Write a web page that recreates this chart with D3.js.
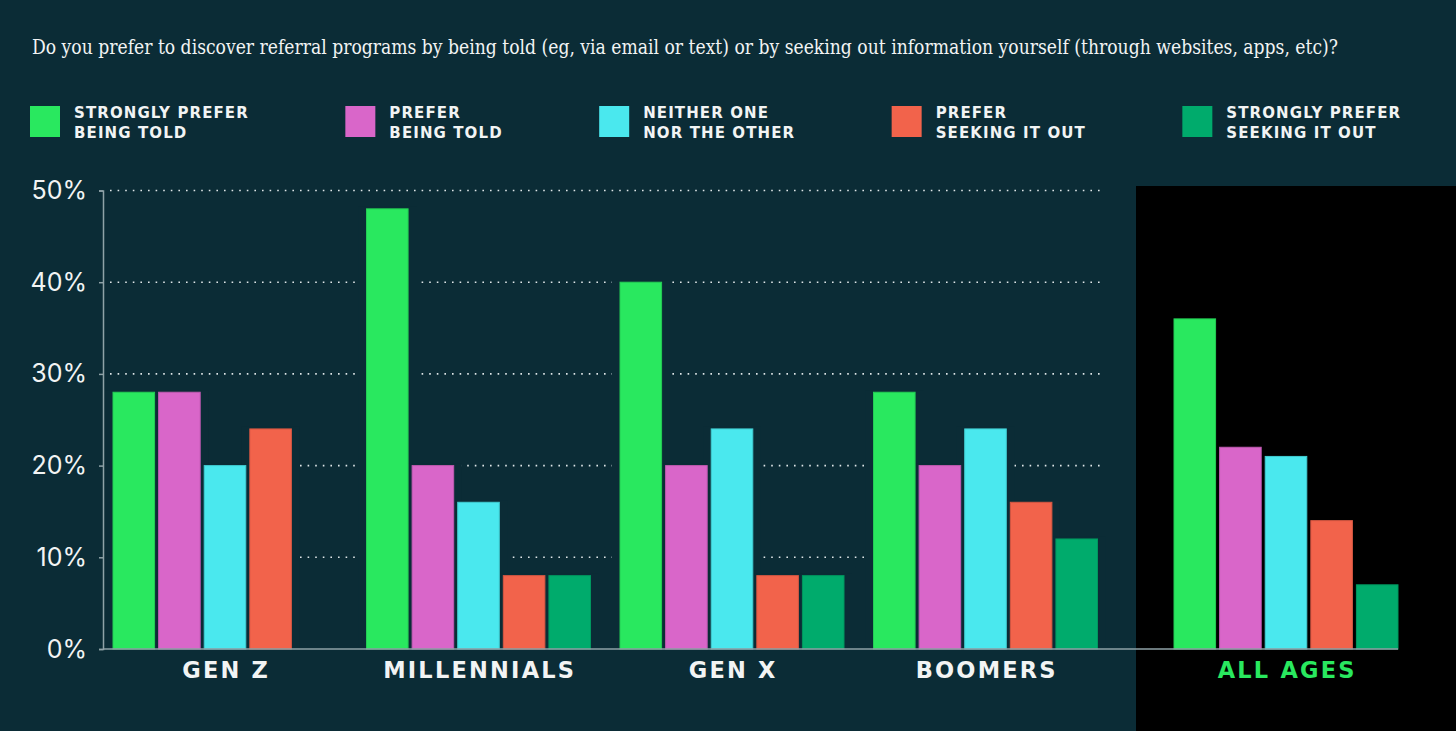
<!DOCTYPE html>
<html>
<head>
<meta charset="utf-8">
<script src="https://cdn.jsdelivr.net/npm/d3@7"></script>
<style>
  html, body { margin: 0; padding: 0; background: #0b2c36; }
  svg { display: block; }
</style>
</head>
<body>
<svg id="chart" width="1456" height="731"></svg>
<script>
// Data
const title = "Do you prefer to discover referral programs by being told (eg, via email or text) or by seeking out information yourself (through websites, apps, etc)?";
const groups = ["GEN Z", "MILLENNIALS", "GEN X", "BOOMERS", "ALL AGES"];
const seriesKeys = ["strongTold", "preferTold", "neither", "preferSeek", "strongSeek"];
const seriesLabels = [
  ["STRONGLY PREFER", "BEING TOLD"],
  ["PREFER", "BEING TOLD"],
  ["NEITHER ONE", "NOR THE OTHER"],
  ["PREFER", "SEEKING IT OUT"],
  ["STRONGLY PREFER", "SEEKING IT OUT"]
];
const seriesColors = ["#29e85f", "#d966c9", "#4ae8ee", "#f2634b", "#00ab6c"];

const strongTold = [28, 48, 40, 28, 36];
const preferTold = [28, 20, 20, 20, 22];
const neither    = [20, 16, 24, 24, 21];
const preferSeek = [24, 8, 8, 16, 14];
const strongSeek = [null, 8, 8, 12, 7];

const yTicks = [0, 10, 20, 30, 40, 50];

const seriesValues = [strongTold, preferTold, neither, preferSeek, strongSeek];

// Layout
const W = 1456, H = 731;
const bg = "#0b2c36";
const baseY = 649, topY = 190.5;
const axisX = 103;
const panelX = 1136, panelY = 186;
const groupStep = 253.5, groupGap = 29.5, panelShift = 47;

const svg = d3.select("#chart");

svg.append("rect").attr("width", W).attr("height", H).attr("fill", bg);
svg.append("rect")
  .attr("x", panelX).attr("y", panelY)
  .attr("width", W - panelX).attr("height", H - panelY)
  .attr("fill", "#000");

// Title
svg.append("text")
  .attr("x", 32).attr("y", 54)
  .attr("textLength", 1306)
  .attr("lengthAdjust", "spacingAndGlyphs")
  .style("font-family", "'DejaVu Serif Condensed', 'DejaVu Serif', serif")
  .style("font-size", "19.5px")
  .attr("fill", "#f2f4f4")
  .text(title);

// Legend
let lx = 30;
seriesLabels.forEach((lines, i) => {
  const item = svg.append("g").attr("transform", `translate(${lx},106)`);
  item.append("rect")
    .attr("width", 30).attr("height", 31)
    .attr("fill", seriesColors[i]);
  const t = item.append("text")
    .attr("x", 44)
    .style("font-family", "'DejaVu Sans', sans-serif")
    .style("font-weight", "bold")
    .style("font-size", "15px")
    .style("letter-spacing", "1.1px")
    .attr("fill", "#f2f4f4");
  lines.forEach((ln, j) => {
    t.append("tspan").attr("x", 44).attr("y", 12.3 + j * 19.4).text(ln);
  });
  const w = d3.max(t.selectAll("tspan").nodes(), n => n.getComputedTextLength());
  lx += 44 + w + 96.5;
});

// Scales
const y = d3.scaleLinear().domain([0, 50]).range([baseY, topY]);

const x0 = d3.scaleBand()
  .domain(groups)
  .range([113, 113 + groupStep * (groups.length - groupGap / groupStep)])
  .paddingInner(groupGap / groupStep)
  .paddingOuter(0);

const groupX = g => x0(g) + (g === "ALL AGES" ? panelShift : 0);

const x1 = d3.scaleBand()
  .domain(seriesKeys)
  .range([0, x0.bandwidth()])
  .paddingInner(0.088);

const bars = [];
groups.forEach((g, gi) => {
  seriesKeys.forEach((k, si) => {
    const v = seriesValues[si][gi];
    if (v != null) bars.push({ group: g, key: k, value: v, color: seriesColors[si] });
  });
});

// Gridlines (dotted)
const lastPlainGroup = groups[groups.length - 2];
const gridEnd = groupX(lastPlainGroup) + x0.bandwidth() + 8;
svg.append("g")
  .selectAll("line")
  .data(yTicks.filter(d => d > 0))
  .join("line")
  .attr("x1", axisX + 7).attr("x2", gridEnd)
  .attr("y1", d => y(d)).attr("y2", d => y(d))
  .attr("stroke", "#dfe6e8")
  .attr("stroke-width", 1.6)
  .attr("stroke-dasharray", "1.6 6");

// masks so the dots stop short of each bar
svg.append("g")
  .selectAll("rect")
  .data(bars.filter(d => d.group !== "ALL AGES"))
  .join("rect")
  .attr("x", d => groupX(d.group) + x1(d.key) - 8)
  .attr("width", x1.bandwidth() + 16)
  .attr("y", d => y(d.value) - 2)
  .attr("height", d => baseY - y(d.value) + 2)
  .attr("fill", bg);

// Bars
svg.append("g")
  .selectAll("rect")
  .data(bars)
  .join("rect")
  .attr("x", d => groupX(d.group) + x1(d.key))
  .attr("width", x1.bandwidth())
  .attr("y", d => y(d.value))
  .attr("height", d => baseY - y(d.value))
  .attr("fill", d => d.color)
  .attr("stroke", d => d3.color(d.color).darker(0.35))
  .attr("stroke-width", 1);

// Y axis
const yAxis = svg.append("g")
  .attr("transform", `translate(${axisX},0)`)
  .call(d3.axisLeft(y).tickValues(yTicks).tickFormat(d => d + "%").tickSize(4).tickPadding(12));
yAxis.select(".domain").attr("stroke", "#8fa2a7").attr("stroke-width", 1.5);
yAxis.selectAll(".tick line").attr("stroke", "#8fa2a7").attr("stroke-width", 1.5);
yAxis.selectAll(".tick text")
  .attr("fill", "#f2f4f4")
  .style("font-family", "Inter, 'Noto Sans', sans-serif")
  .style("font-size", "25px");

// Baseline
const lastGroup = groups[groups.length - 1];
svg.append("line")
  .attr("x1", axisX)
  .attr("x2", groupX(lastGroup) + x0.bandwidth())
  .attr("y1", baseY).attr("y2", baseY)
  .attr("stroke", "#8fa2a7")
  .attr("stroke-width", 1.5);

// Group labels
svg.append("g")
  .selectAll("text")
  .data(groups)
  .join("text")
  .attr("x", d => groupX(d) + x0.bandwidth() / 2 + 1.2)
  .attr("y", 678)
  .attr("text-anchor", "middle")
  .style("font-family", "'DejaVu Sans', sans-serif")
  .style("font-weight", "bold")
  .style("font-size", "22.5px")
  .style("letter-spacing", "2.2px")
  .attr("fill", d => d === "ALL AGES" ? "#29e85f" : "#f2f4f4")
  .text(d => d);
</script>
</body>
</html>
